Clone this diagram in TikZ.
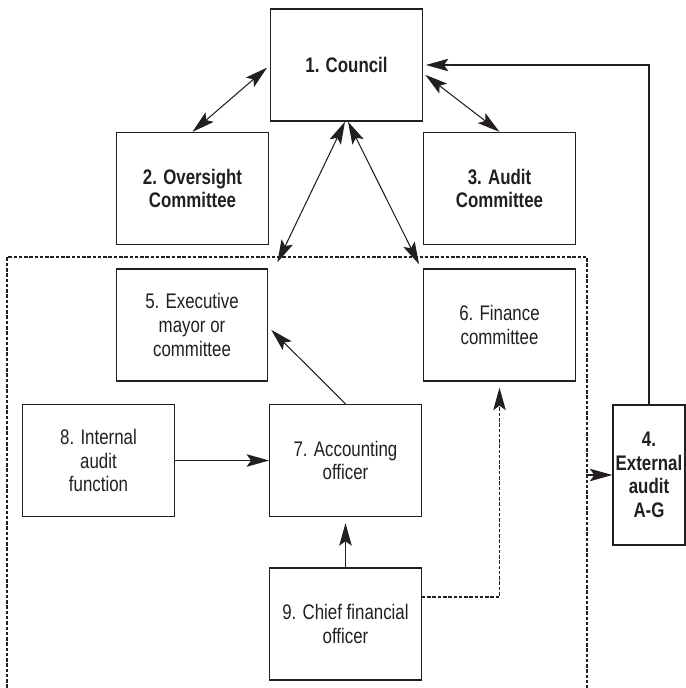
\documentclass[tikz,border=0pt]{standalone}
\usepackage{fontspec}
\setmainfont{Liberation Sans}[FakeStretch=0.8]
\usepackage{tikz}
\usetikzlibrary{arrows.meta}
\usetikzlibrary{positioning}
\definecolor{ink}{RGB}{35,31,32}
\tikzset{box/.style = {draw = ink, line width = 0.75pt, minimum width = 3.03cm, minimum height = 2.24cm,
                       align = center, inner sep = 2pt, text = ink,
                       font = \fontsize{12}{13.4}\selectfont}}
\tikzset{boldbox/.style = {box, font = \fontsize{12}{13.4}\selectfont\bfseries}}
\tikzset{link/.style = {draw = ink, line width = 0.6pt, -{Stealth[length = 0.45cm, width = 0.25cm, inset = 0.09cm]}}}
\tikzset{twoway/.style = {draw = ink, line width = 0.6pt,
                          {Stealth[length = 0.45cm, width = 0.25cm, inset = 0.09cm]}-{Stealth[length = 0.45cm, width = 0.25cm, inset = 0.09cm]}}}
\tikzset{dashlink/.style = {link, dash pattern = on 2pt off 1pt}}

\begin{document}
\begin{tikzpicture}
    \useasboundingbox (0, 0) rectangle (13.72, -13.76);

    \draw [ink, line width = 0.6pt, dash pattern = on 2pt off 1pt]
        (0.14, -13.76) -- (0.14, -5.14) -- (11.74, -5.14) -- (11.74, -13.76);

    \node [boldbox] (council) at (6.93, -1.30) {1. Council};
    \node [boldbox] (oversight) at (3.85, -3.77) {2. Oversight\\Committee};
    \node [boldbox] (audit) at (9.99, -3.77) {3. Audit\\Committee};
    \node [boldbox, minimum width = 1.44cm, minimum height = 2.80cm, inner sep = 0pt] (external) at (12.98, -9.50) {4.\\External\\audit\\A-G};

    \node [box] (exec) at (3.84, -6.50) {5. Executive\\mayor or\\committee};
    \node [box] (finance) at (9.99, -6.50) {6. Finance\\committee};
    \node [box] (internal) at (1.97, -9.21) {8. Internal\\audit\\function};
    \node [box] (accounting) at (6.91, -9.21) {7. Accounting\\officer};
    \node [box] (cfo) at (6.91, -12.48) {9. Chief financial\\officer};

    \coordinate (frame) at (11.74, -9.50);

    \draw [twoway, shorten < = 0.08cm] (council.west) -- (oversight.north);
    \draw [twoway, shorten < = 0.06cm] ([yshift = -0.16cm] council.east) -- (audit.north);
    \draw [twoway] ([xshift = -0.03cm] council.south) -- ([shift = {(0.18cm, 0.12cm)}] exec.north east);
    \draw [twoway] ([xshift = 0.03cm] council.south) -- ([shift = {(-0.08cm, 0.08cm)}] finance.north west);

    \draw [link, shorten > = 0.08cm] (accounting.north) -- ([yshift = -0.04cm] exec.east);
    \draw [link] (internal.east) -- (accounting.west);
    \draw [link, shorten > = 0.12cm] (cfo.north) -- (accounting.south);
    \draw [dashlink, shorten > = 0.12cm] ([yshift = 0.54cm] cfo.east) -| (finance.south);

    \draw [link] (frame) -- (external.west);
    \draw [link, shorten > = 0.06cm] (external.north) |- (council.east);
\end{tikzpicture}
\end{document}
